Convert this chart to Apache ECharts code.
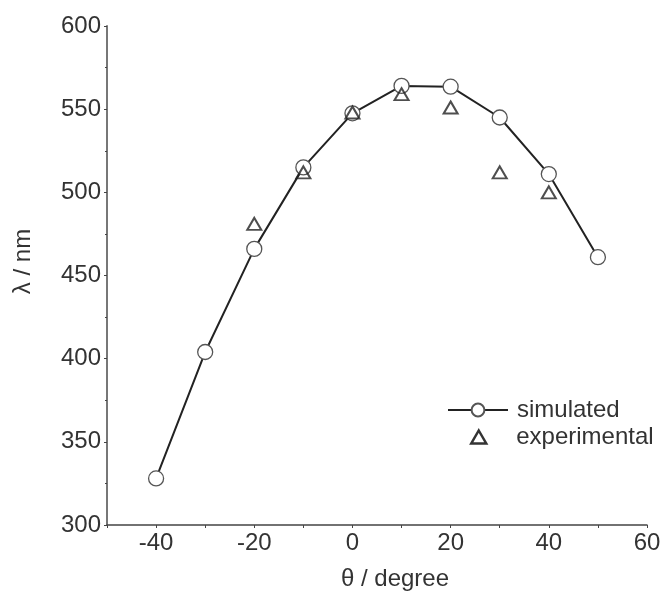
<!DOCTYPE html>
<html>
<head>
<meta charset="utf-8">
<script src="https://cdn.jsdelivr.net/npm/echarts@6/dist/echarts.min.js"></script>
<style>
  html, body { margin: 0; padding: 0; background: #fff; }
  #chart { width: 671px; height: 596px; }
</style>
</head>
<body>
<div id="chart"></div>
<script>
// angle theta (degree) and wavelength lambda (nm)
const thetaSim = [-40, -30, -20, -10, 0, 10, 20, 30, 40, 50]
const lambdaSim = [328, 404, 466, 515, 547.5, 564, 563.5, 545, 511, 461]

const thetaExp = [-20, -10, 0, 10, 20, 30, 40]
const lambdaExp = [481, 512, 548, 559, 551, 512, 500]

const FONT = 'Liberation Sans, Arial, sans-serif'
const legendText = { fontSize: 24, color: '#333', fontFamily: FONT }

const chart = echarts.init(document.getElementById('chart'))

const option = {
    backgroundColor: '#fff',
    animation: false,
    textStyle: { fontFamily: FONT },
    grid: { left: 107, right: 24, top: 26, bottom: 70 },
    legend: [{
        orient: 'vertical',
        left: 447,
        top: 398,
        itemWidth: 60,
        itemHeight: 16,
        padding: 0,
        textStyle: Object.assign({ padding: [0, 0, 0, 4] }, legendText),
        data: ['simulated']
    }, {
        orient: 'vertical',
        left: 470,
        top: 425,
        itemWidth: 15,
        itemHeight: 13,
        padding: 0,
        textStyle: Object.assign({ padding: [0, 0, 0, 25] }, legendText),
        data: [{
            name: 'experimental',
            itemStyle: { color: 'rgba(0,0,0,0)', borderColor: '#000', borderWidth: 2.5 }
        }]
    }],
    xAxis: {
        type: 'value',
        min: -50,
        max: 60,
        interval: 10,
        name: 'θ / degree',
        nameLocation: 'middle',
        nameGap: 42,
        nameTextStyle: { fontSize: 24, color: '#333', padding: [0, 0, 0, 36] },
        axisLine: { onZero: false, lineStyle: { color: '#444', width: 1.5 } },
        axisTick: { length: 3, lineStyle: { color: '#444' } },
        axisLabel: {
            fontSize: 24, color: '#333', margin: 6,
            formatter: v => (v % 20 === 0 ? String(v) : '')
        },
        splitLine: { show: false }
    },
    yAxis: {
        type: 'value',
        min: 300,
        max: 600,
        interval: 50,
        name: 'λ / nm',
        nameLocation: 'middle',
        nameGap: 72,
        nameTextStyle: { fontSize: 24, color: '#333', padding: [0, 0, 0, 28] },
        axisLine: { show: true, onZero: false, lineStyle: { color: '#777', width: 2 } },
        axisTick: { show: true, length: 3, lineStyle: { color: '#444' } },
        minorTick: { show: true, splitNumber: 2, length: 2, lineStyle: { color: '#444' } },
        axisLabel: { fontSize: 24, color: '#333', margin: 6 },
        splitLine: { show: false }
    },
    series: [
        {
            name: 'simulated',
            type: 'line',
            data: thetaSim.map((t, i) => [t, lambdaSim[i]]),
            symbol: 'circle',
            symbolSize: 15,
            lineStyle: { color: '#222', width: 2 },
            itemStyle: { color: '#fff', borderColor: '#555', borderWidth: 1.3 },
            z: 2
        },
        {
            name: 'experimental',
            type: 'scatter',
            data: thetaExp.map((t, i) => [t, lambdaExp[i]]),
            symbol: 'triangle',
            symbolSize: [14, 12],
            itemStyle: { color: 'rgba(0,0,0,0)', borderColor: '#222', borderWidth: 2 },
            z: 3
        }
    ]
}

chart.setOption(option)
</script>
</body>
</html>
